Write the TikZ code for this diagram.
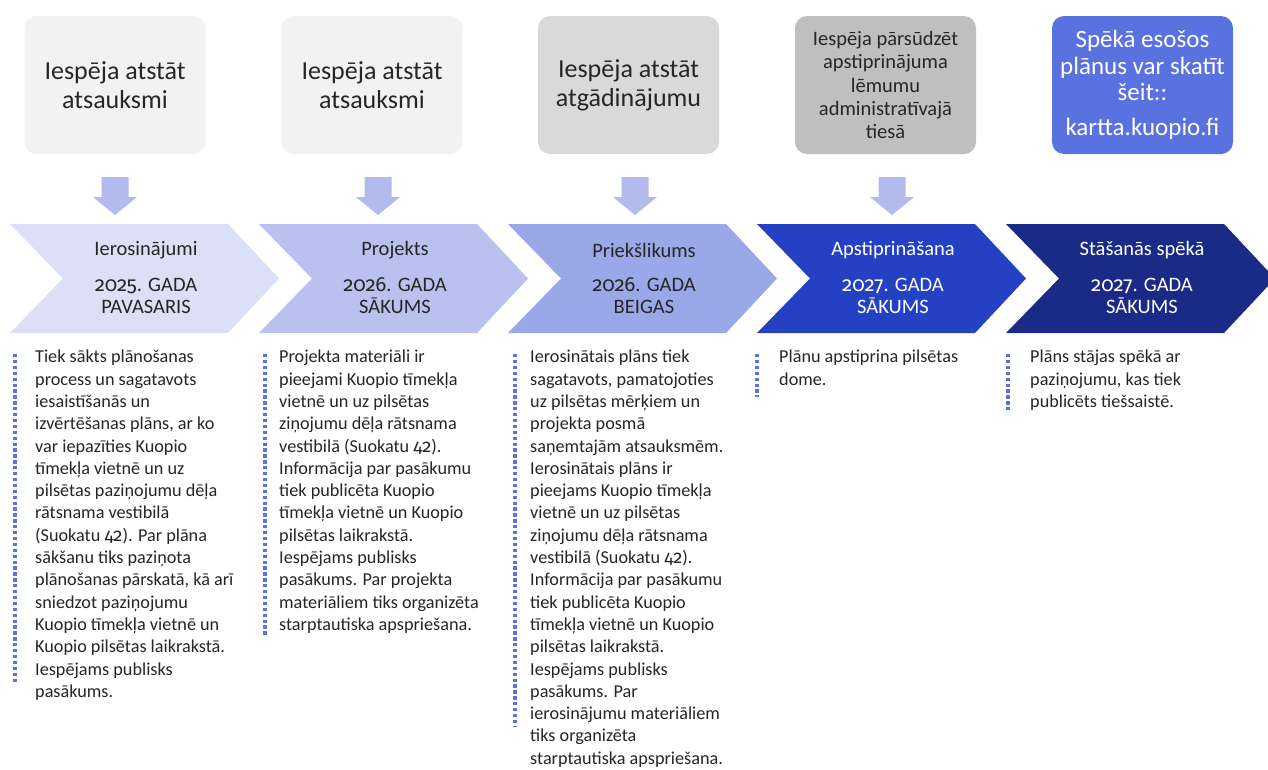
\documentclass[tikz,border=0pt]{standalone}
\usepackage{fontspec}
\setmainfont{Carlito}
\newfontfamily\osf{Fira Sans}[Numbers=OldStyle]
\newcommand{\on}[1]{{\osf #1}}
\definecolor{txt}{HTML}{262626}
\definecolor{boxa}{HTML}{F2F2F2}
\definecolor{boxb}{HTML}{D9D9D9}
\definecolor{boxc}{HTML}{BFBFBF}
\definecolor{boxd}{HTML}{5A72DF}
\definecolor{chA}{HTML}{DCE0F7}
\definecolor{chB}{HTML}{BAC1EF}
\definecolor{chC}{HTML}{9AA8EA}
\definecolor{chD}{HTML}{2541C3}
\definecolor{chE}{HTML}{1A2B87}
\definecolor{arrc}{HTML}{B3BBEE}
\definecolor{dotc}{HTML}{5B72E0}
\begin{document}
\begin{tikzpicture}[x=1pt,y=-1pt,
  topbox/.style={rounded corners=12pt, minimum width=181pt, minimum height=138pt, align=center, inner sep=0pt, text=txt, font=\fontsize{26}{29}\selectfont},
  chevtitle/.style={inner sep=0pt, align=center, font=\fontsize{20.5}{22}\selectfont},
  chevdate/.style={inner sep=0pt, align=center, font=\fontsize{20.5}{22}\selectfont},
  coltext/.style={anchor=north west, inner sep=0pt, align=left, text=txt, font=\fontsize{18.2}{22.3}\selectfont},
  dotline/.style={draw=dotc, line width=3.2pt, dash pattern=on 3.3pt off 2.6pt},
  downarrow/.style={fill=arrc}
]
\useasboundingbox (0,0) rectangle (1268,769);
\clip (0,0) rectangle (1268,769);
\fill[white] (0,0) rectangle (1268,769);

% top boxes
\node[topbox, fill=boxa] (b1) at (115,85) {Iespēja atstāt\\atsauksmi};
\node[topbox, fill=boxa] (b2) at (372,85) {Iespēja atstāt\\atsauksmi};
\node[topbox, fill=boxb] (b3) at (628.5,85) {Iespēja atstāt\\atgādinājumu};
\node[topbox, fill=boxc, font=\fontsize{20.5}{23.4}\selectfont] (b4) at (885.5,85) {Iespēja pārsūdzēt\\apstiprinājuma\\lēmumu\\administratīvajā\\tiesā};
\node[topbox, fill=boxd, text=white, font=\fontsize{25}{26.5}\selectfont] (b5) at (1142.5,85) {Spēkā esošos\\plānus var skatīt\\šeit::\\[8pt]kartta.kuopio.fi};

% down arrows
\foreach \cx in {115,378,635,892}{
  \fill[downarrow] ({\cx-13.5},177) -- ({\cx+13.5},177) -- ({\cx+13.5},197) -- ({\cx+22},197)
    -- (\cx,215) -- ({\cx-22},197) -- ({\cx-13.5},197) -- cycle;
}

% chevrons
\foreach \L/\c in {10/chA,259/chB,508/chC,757/chD,1006/chE}{
  \fill[\c] (\L,224) -- ({\L+218},224) -- ({\L+269},278.5) -- ({\L+218},333) -- (\L,333) -- ({\L+53},278.5) -- cycle;
}

\node[chevtitle, text=txt] (t1) at (146,250.5) {Ierosinājumi};
\node[chevdate, text=txt] (d1) at (146,295.5) {\on{2025}. GADA\\PAVASARIS};
\node[chevtitle, text=txt] (t2) at (395,250.5) {Projekts};
\node[chevdate, text=txt] (d2) at (395,295.5) {\on{2026}. GADA\\SĀKUMS};
\node[chevtitle, text=txt] (t3) at (644,250.5) {Priekšlikums};
\node[chevdate, text=txt] (d3) at (644,295.5) {\on{2026}. GADA\\BEIGAS};
\node[chevtitle, text=white] (t4) at (893,250.5) {Apstiprināšana};
\node[chevdate, text=white] (d4) at (893,295.5) {\on{2027}. GADA\\SĀKUMS};
\node[chevtitle, text=white] (t5) at (1142,250.5) {Stāšanās spēkā};
\node[chevdate, text=white] (d5) at (1142,295.5) {\on{2027}. GADA\\SĀKUMS};

% dotted lines
\draw[dotline] (15,354) -- (15,684);
\draw[dotline] (265,354) -- (265,636);
\draw[dotline] (515,354) -- (515,726);
\draw[dotline] (757,354) -- (757,397);
\draw[dotline] (1008,354) -- (1008,413);

% column texts
\node[coltext] (c1) at (35,350) {Tiek sākts plānošanas\\process un sagatavots\\iesaistīšanās un\\izvērtēšanas plāns, ar ko\\var iepazīties Kuopio\\tīmekļa vietnē un uz\\pilsētas paziņojumu dēļa\\rātsnama vestibilā\\(Suokatu \on{42}). Par plāna\\sākšanu tiks paziņota\\plānošanas pārskatā, kā arī\\sniedzot paziņojumu\\Kuopio tīmekļa vietnē un\\Kuopio pilsētas laikrakstā.\\Iespējams publisks\\pasākums.};
\node[coltext] (c2) at (279,350) {Projekta materiāli ir\\pieejami Kuopio tīmekļa\\vietnē un uz pilsētas\\ziņojumu dēļa rātsnama\\vestibilā (Suokatu \on{42}).\\Informācija par pasākumu\\tiek publicēta Kuopio\\tīmekļa vietnē un Kuopio\\pilsētas laikrakstā.\\Iespējams publisks\\pasākums. Par projekta\\materiāliem tiks organizēta\\starptautiska apspriešana.};
\node[coltext] (c3) at (530,350) {Ierosinātais plāns tiek\\sagatavots, pamatojoties\\uz pilsētas mērķiem un\\projekta posmā\\saņemtajām atsauksmēm.\\Ierosinātais plāns ir\\pieejams Kuopio tīmekļa\\vietnē un uz pilsētas\\ziņojumu dēļa rātsnama\\vestibilā (Suokatu \on{42}).\\Informācija par pasākumu\\tiek publicēta Kuopio\\tīmekļa vietnē un Kuopio\\pilsētas laikrakstā.\\Iespējams publisks\\pasākums. Par\\ierosinājumu materiāliem\\tiks organizēta\\starptautiska apspriešana.};
\node[coltext] (c4) at (779,350) {Plānu apstiprina pilsētas\\dome.};
\node[coltext] (c5) at (1030,350) {Plāns stājas spēkā ar\\paziņojumu, kas tiek\\publicēts tiešsaistē.};
\end{tikzpicture}
\end{document}
